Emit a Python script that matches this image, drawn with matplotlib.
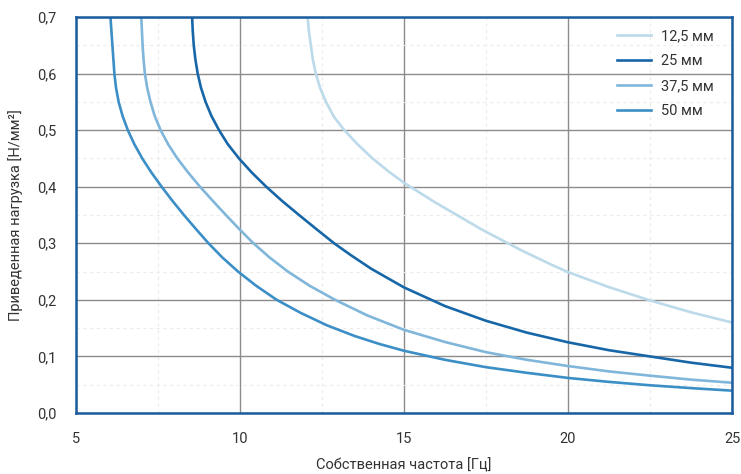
import matplotlib
matplotlib.use("Agg")
import matplotlib.pyplot as plt
from matplotlib import font_manager as fm
from matplotlib.ticker import MultipleLocator, FuncFormatter

# ---- data ----
f_125 = [12.06, 12.10, 12.16, 12.22, 12.31, 12.44, 12.62, 12.87, 13.18, 13.585, 14.04, 14.55, 15.0,
         15.93, 16.64, 17.35, 18.17, 18.58, 19.5, 20.0, 21.25, 22.5, 23.75, 25.0]
v_125 = [0.70, 0.675, 0.65, 0.625, 0.60, 0.575, 0.55, 0.523, 0.50, 0.475, 0.45, 0.426, 0.407,
         0.373, 0.349, 0.325, 0.30, 0.2875, 0.262, 0.249, 0.2225, 0.199, 0.178, 0.160]

f_25 = [8.54, 8.56, 8.59, 8.64, 8.71, 8.81, 8.95, 9.13, 9.36, 9.63, 9.97, 10.36, 10.80, 11.28,
        11.80, 12.33, 12.87, 13.38, 14.0, 15.0, 16.25, 17.5, 18.75, 20.0, 21.25, 22.5, 23.75, 25.0]
v_25 = [0.70, 0.675, 0.65, 0.625, 0.60, 0.575, 0.55, 0.525, 0.50, 0.475, 0.45, 0.425, 0.40, 0.375,
        0.35, 0.325, 0.30, 0.279, 0.255, 0.222, 0.189, 0.163, 0.142, 0.125, 0.111, 0.100, 0.089, 0.080]

f_375 = [6.99, 7.01, 7.03, 7.06, 7.10, 7.17, 7.27, 7.40, 7.58, 7.81, 8.09, 8.42, 8.78, 9.17, 9.57,
         9.98, 10.41, 10.90, 11.46, 12.12, 12.90, 13.9, 15.0, 16.25, 17.5, 18.75, 20.0, 21.25, 22.5,
         23.75, 25.0]
v_375 = [0.70, 0.675, 0.65, 0.625, 0.60, 0.575, 0.55, 0.525, 0.50, 0.475, 0.45, 0.425, 0.40, 0.375, 0.35,
         0.325, 0.30, 0.275, 0.25, 0.225, 0.20, 0.172, 0.147, 0.1255, 0.1075, 0.094, 0.083, 0.0735, 0.066,
         0.059, 0.0535]

f_50 = [6.05, 6.08, 6.11, 6.14, 6.17, 6.22, 6.30, 6.42, 6.58, 6.78, 7.02, 7.30, 7.61, 7.94, 8.29,
        8.66, 9.04, 9.46, 9.94, 10.49, 11.12, 11.85, 12.65, 13.5, 14.25, 15.0, 16.25, 17.5, 18.75,
        20.0, 21.25, 22.5, 23.75, 25.0]
v_50 = [0.70, 0.675, 0.65, 0.625, 0.60, 0.575, 0.55, 0.525, 0.50, 0.475, 0.45, 0.425, 0.40, 0.375, 0.35,
        0.325, 0.30, 0.275, 0.25, 0.225, 0.20, 0.177, 0.155, 0.136, 0.122, 0.110, 0.094, 0.081, 0.071,
        0.062, 0.055, 0.049, 0.044, 0.0395]

series_labels = ["12,5 мм", "25 мм", "37,5 мм", "50 мм"]
x_label = "Собственная частота [Гц]"
y_label = "Приведенная нагрузка [Н/мм²]"
x_ticks = [5, 10, 15, 20, 25]
y_ticks = [0.0, 0.1, 0.2, 0.3, 0.4, 0.5, 0.6, 0.7]

# ---- fonts ----
def available(name):
    try:
        fm.findfont(fm.FontProperties(family=name), fallback_to_default=False)
        return True
    except Exception:
        return False

fam = [f for f in ["Liberation Sans Narrow", "Roboto", "DejaVu Sans"] if available(f)]
plt.rcParams["font.family"] = fam
TXT = "#333333"

colors = ["#bcdaea", "#1767a8", "#7fb6da", "#3b8fc6"]

fig = plt.figure(figsize=(7.41, 4.74), dpi=100)
ax = fig.add_axes([76 / 741, (474 - 413) / 474, (732 - 76) / 741, (413 - 17) / 474])

for fx, vy, c, lab in zip([f_125, f_25, f_375, f_50], [v_125, v_25, v_375, v_50], colors, series_labels):
    ax.plot(fx, vy, color=c, lw=1.9, label=lab, solid_joinstyle="round", zorder=3)

ax.set_xlim(5, 25)
ax.set_ylim(0, 0.7)
ax.xaxis.set_minor_locator(MultipleLocator(2.5))
ax.yaxis.set_minor_locator(MultipleLocator(0.05))
ax.set_xticks(x_ticks)
ax.set_yticks(y_ticks)
ax.xaxis.set_major_formatter(FuncFormatter(lambda v, p: f"{v:.0f}"))
ax.yaxis.set_major_formatter(FuncFormatter(lambda v, p: f"{v:.1f}".replace(".", ",")))

ax.grid(which="major", color="#8c8c8c", lw=1.0, zorder=1)
ax.grid(which="minor", color="#ececec", lw=0.8, ls=(0, (3, 3)), zorder=1)
ax.set_axisbelow(True)

ax.tick_params(which="both", length=0, labelsize=10.5, labelcolor=TXT)
ax.tick_params(axis="y", pad=14)
ax.tick_params(axis="x", pad=14)

for s in ax.spines.values():
    s.set_color("#1a5c9e")
    s.set_linewidth(1.8)
    s.set_zorder(4)

ax.set_xlabel(x_label, fontsize=10.5, color=TXT, labelpad=8)
ax.set_ylabel(y_label, fontsize=10.5, color=TXT, labelpad=10)

leg = ax.legend(loc="upper left", bbox_to_anchor=(617 / 741, (474 - 29) / 474),
                bbox_transform=fig.transFigure, frameon=False, fontsize=10.5,
                handlelength=2.3, handletextpad=0.7, labelspacing=0.75,
                borderpad=0, borderaxespad=0)
for t in leg.get_texts():
    t.set_color(TXT)

fig.savefig("out.png", dpi=100)
